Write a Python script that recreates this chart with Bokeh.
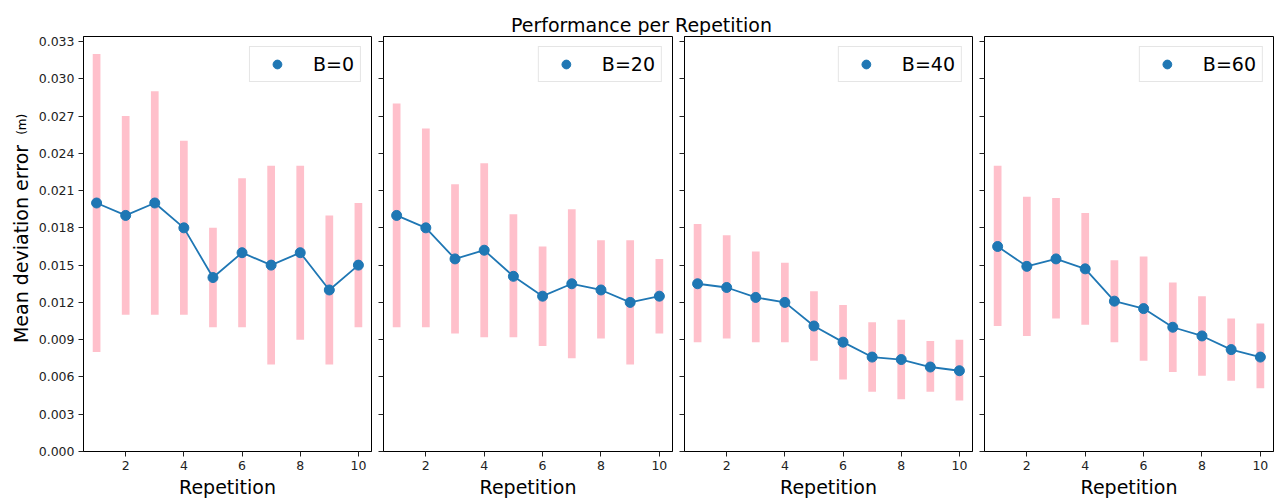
from bokeh.plotting import figure
from bokeh.models import (Range1d, FixedTicker, NumeralTickFormatter, Label,
                          Legend, LegendItem, ColumnDataSource,
                          CustomJSTickFormatter)
from bokeh.layouts import column, row
from bokeh.embed import file_html
from bokeh.resources import INLINE
import math

# ---------------- data ----------------
reps = [1, 2, 3, 4, 5, 6, 7, 8, 9, 10]
groups = ["B=0", "B=20", "B=40", "B=60"]

mean_b0 = [0.0200, 0.0190, 0.0200, 0.0180, 0.0140, 0.0160, 0.0150, 0.0160, 0.0130, 0.0150]
low_b0 = [0.0080, 0.0110, 0.0110, 0.0110, 0.0100, 0.0100, 0.0070, 0.0090, 0.0070, 0.0100]
high_b0 = [0.0320, 0.0270, 0.0290, 0.0250, 0.0180, 0.0220, 0.0230, 0.0230, 0.0190, 0.0200]

mean_b20 = [0.0190, 0.0180, 0.0155, 0.0162, 0.0141, 0.0125, 0.0135, 0.0130, 0.0120, 0.0125]
low_b20 = [0.0100, 0.0100, 0.0095, 0.0092, 0.0092, 0.0085, 0.0075, 0.0091, 0.0070, 0.0095]
high_b20 = [0.0280, 0.0260, 0.0215, 0.0232, 0.0191, 0.0165, 0.0195, 0.0170, 0.0170, 0.0155]

mean_b40 = [0.0135, 0.0132, 0.0124, 0.0120, 0.0101, 0.0088, 0.0076, 0.0074, 0.0068, 0.0065]
low_b40 = [0.0088, 0.0091, 0.0088, 0.0088, 0.0073, 0.0058, 0.0048, 0.0042, 0.0048, 0.0041]
high_b40 = [0.0183, 0.0174, 0.0161, 0.0152, 0.0129, 0.0118, 0.0104, 0.0106, 0.0089, 0.0090]

mean_b60 = [0.0165, 0.0149, 0.0155, 0.0147, 0.0121, 0.0115, 0.0100, 0.0093, 0.0082, 0.0076]
low_b60 = [0.0101, 0.0093, 0.0107, 0.0102, 0.0088, 0.0073, 0.0064, 0.0061, 0.0057, 0.0051]
high_b60 = [0.0230, 0.0205, 0.0204, 0.0192, 0.0154, 0.0157, 0.0136, 0.0125, 0.0107, 0.0103]

x_ticks = [2, 4, 6, 8, 10]
y_ticks = [0.000, 0.003, 0.006, 0.009, 0.012, 0.015, 0.018, 0.021, 0.024, 0.027, 0.030, 0.033]

title_text = "Performance per Repetition"
x_label = "Repetition"
y_label = "Mean deviation error"
y_unit = "(m)"

# ---------------- style ----------------
FONT = "DejaVu Sans"
BLUE = "#1f77b4"
PINK = "#FFC0CB"
X0, X1 = 0.55, 10.45
Y0, Y1 = 0.0, 0.0334
FRAME_H = 415
FIG_H = 468
HEAD_H = 35
LABEL_W = 34
FRAME_WIDTHS = [288, 289, 288, 289]
FIRST_LEFT = 83 - LABEL_W
OTHER_LEFT = 11


def make_panel(i, label, means, lows, highs):
    first = i == 0
    left = FIRST_LEFT if first else OTHER_LEFT
    fw = FRAME_WIDTHS[i]
    p = figure(width=left + fw + 1, height=FIG_H,
               x_range=Range1d(X0, X1), y_range=Range1d(Y0, Y1),
               output_backend="svg", toolbar_location=None,
               min_border_left=left, min_border_right=1,
               min_border_top=1, min_border_bottom=52)
    p.xgrid.visible = False
    p.ygrid.visible = False
    p.outline_line_color = "black"
    p.outline_line_alpha = 1.0
    p.outline_line_width = 1
    p.background_fill_color = "white"
    p.border_fill_color = "white"

    src = ColumnDataSource(dict(x=reps, m=means, lo=lows, hi=highs))
    p.vbar(x="x", bottom="lo", top="hi", width=0.265, source=src,
           fill_color=PINK, line_color=None)
    p.line("x", "m", source=src, line_color=BLUE, line_width=1.8)
    sc = p.scatter("x", "m", source=src, size=10, fill_color=BLUE,
                   line_color=BLUE)

    legend = Legend(items=[LegendItem(label=label, renderers=[sc])],
                    location="top_right", margin=10, padding=6, spacing=0,
                    glyph_width=42, glyph_height=22, label_height=22,
                    label_standoff=15,
                    label_text_font=FONT, label_text_font_size="19px",
                    label_text_color="black",
                    border_line_color="#cccccc", border_line_width=1,
                    background_fill_color="white", background_fill_alpha=0.8)
    p.add_layout(legend)

    for ax in (p.xaxis[0], p.yaxis[0]):
        ax.major_tick_out = 5
        ax.major_tick_in = 0
        ax.minor_tick_line_color = None
        ax.axis_line_color = "black"
        ax.major_tick_line_color = "#222222"
        ax.major_label_text_font = FONT
        ax.major_label_text_font_size = "12.5px"
        ax.major_label_text_color = "#222222"
        ax.major_label_standoff = 4

    p.xaxis.ticker = FixedTicker(ticks=x_ticks)
    p.xaxis.axis_label = x_label
    p.xaxis.axis_label_text_font = FONT
    p.xaxis.axis_label_text_font_size = "19px"
    p.xaxis.axis_label_text_font_style = "normal"
    p.xaxis.axis_label_text_color = "black"
    p.xaxis.axis_label_standoff = 3

    p.yaxis.ticker = FixedTicker(ticks=y_ticks)
    if first:
        p.yaxis.formatter = NumeralTickFormatter(format="0.000")
    else:
        p.yaxis.formatter = CustomJSTickFormatter(code="return ''")
        p.yaxis.major_label_standoff = 0
    return p


panels = [
    make_panel(0, groups[0], mean_b0, low_b0, high_b0),
    make_panel(1, groups[1], mean_b20, low_b20, high_b20),
    make_panel(2, groups[2], mean_b40, low_b40, high_b40),
    make_panel(3, groups[3], mean_b60, low_b60, high_b60),
]

# narrow strip holding the y-axis label (two sizes of text)
ylab = figure(width=LABEL_W, height=FIG_H, x_range=Range1d(0, LABEL_W),
              y_range=Range1d(0, FIG_H), output_backend="svg",
              toolbar_location=None, x_axis_location=None,
              y_axis_location=None, min_border=0)
ylab.outline_line_color = None
ylab.xgrid.visible = False
ylab.ygrid.visible = False
ylab.add_layout(Label(x=20, y=FIG_H - (269 - HEAD_H), text=y_label,
                      angle=math.pi / 2,
                      text_align="center", text_baseline="middle",
                      text_font=FONT, text_font_size="19px",
                      text_color="black"))
ylab.add_layout(Label(x=21, y=FIG_H - (134 - HEAD_H), text=y_unit,
                      angle=math.pi / 2,
                      text_align="center", text_baseline="middle",
                      text_font=FONT, text_font_size="12px",
                      text_color="black"))

total_w = LABEL_W + sum(p.width for p in panels)
head = figure(width=total_w, height=HEAD_H, x_range=Range1d(0, total_w),
              y_range=Range1d(HEAD_H, 0), output_backend="svg",
              toolbar_location=None, x_axis_location=None,
              y_axis_location=None, min_border=0)
head.outline_line_color = None
head.xgrid.visible = False
head.ygrid.visible = False
head.add_layout(Label(x=641, y=24, text=title_text, text_align="center",
                      text_baseline="alphabetic", text_font=FONT,
                      text_font_size="19px", text_color="black"))

layout = column(head, row(ylab, *panels))
open("out.html", "w").write(file_html(layout, INLINE))
